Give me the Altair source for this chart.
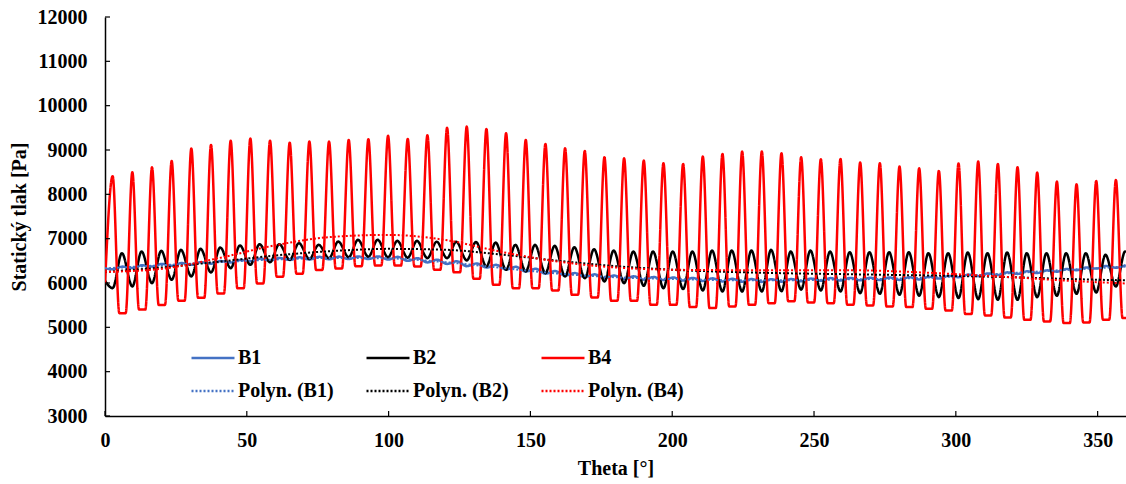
import altair as alt
import pandas as pd

# ---------------- data ----------------
FIRST_PEAK = 2.7      # theta of first B4 peak [deg]
PERIOD = 6.936        # blade-passing period [deg]

red_start = 5990
red_end = 5210
red_peak = [8410, 8500, 8610, 8750, 9035, 9115, 9210, 9260, 9210, 9165,
            9190, 9190, 9225, 9245, 9320, 9250, 9330, 9500, 9528, 9475,
            9378, 9228, 9137, 9040, 8980, 8837, 8814, 8762, 8702, 8687,
            8852, 8912, 8965, 8965, 8927, 8837, 8792, 8799, 8717, 8702,
            8627, 8589, 8529, 8695, 8739, 8687, 8612, 8491, 8288, 8228,
            8303, 8326]
red_trough = [5320, 5400, 5505, 5600, 5665, 5765, 5880, 5990, 6140, 6210,
              6295, 6325, 6380, 6395, 6395, 6373, 6297, 6240, 6095, 5959,
              5884, 5884, 5832, 5734, 5674, 5599, 5599, 5509, 5509, 5456,
              5434, 5471, 5509, 5546, 5590, 5561, 5546, 5509, 5494, 5471,
              5456, 5419, 5380, 5298, 5268, 5223, 5170, 5133, 5095, 5110,
              5170, 5208]

black_start = 6050
black_end = 6690
black_trough = [5884, 5922, 5997, 6072, 6148, 6238, 6335, 6410, 6470, 6523,
                6540, 6560, 6580, 6590, 6580, 6570, 6560, 6560, 6510, 6372,
                6297, 6260, 6222, 6147, 6109, 6034, 5997, 5937, 5884, 5862,
                5832, 5809, 5809, 5809, 5815, 5850, 5831, 5809, 5771, 5756,
                5734, 5711, 5681, 5659, 5636, 5621, 5621, 5681, 5711, 5756,
                5786, 5921]
black_peak = [6673, 6711, 6726, 6748, 6771, 6801, 6846, 6876, 6876, 6899,
              6861, 6936, 6974, 6974, 6951, 6951, 6930, 6930, 6925, 6913,
              6860, 6860, 6838, 6808, 6763, 6733, 6710, 6710, 6710, 6710,
              6733, 6733, 6733, 6748, 6710, 6733, 6710, 6695, 6695, 6695,
              6695, 6673, 6673, 6688, 6673, 6688, 6673, 6673, 6673, 6673,
              6635, 6710]

blue_start = 6330
blue_hi = [6370, 6400, 6430, 6450, 6470, 6495, 6520, 6550, 6565, 6580,
           6590, 6595, 6600, 6600, 6590, 6560, 6525, 6490, 6440, 6410,
           6365, 6320, 6270, 6225, 6195, 6170, 6150, 6135, 6125, 6115,
           6105, 6095, 6090, 6085, 6090, 6100, 6110, 6115, 6120, 6125,
           6130, 6140, 6160, 6190, 6215, 6240, 6265, 6285, 6315, 6350,
           6385, 6405]
blue_lo = [6310, 6340, 6370, 6390, 6410, 6435, 6460, 6490, 6505, 6520,
           6530, 6535, 6540, 6540, 6530, 6500, 6465, 6430, 6380, 6350,
           6305, 6260, 6210, 6165, 6135, 6110, 6090, 6075, 6065, 6055,
           6045, 6035, 6030, 6025, 6030, 6040, 6050, 6055, 6060, 6065,
           6070, 6080, 6100, 6130, 6155, 6180, 6205, 6225, 6255, 6290,
           6325, 6345]

poly_theta = [0, 20, 40, 60, 80, 100, 120, 140, 160, 180,
              200, 220, 240, 260, 280, 300, 320, 340, 360]
poly_b1 = [6330, 6400, 6470, 6530, 6565, 6555, 6470, 6340, 6210, 6130,
           6090, 6065, 6060, 6080, 6100, 6150, 6225, 6300, 6370]
poly_b2 = [6250, 6350, 6480, 6620, 6720, 6770, 6750, 6640, 6500, 6380,
           6300, 6250, 6220, 6200, 6180, 6160, 6130, 6090, 6060]
poly_b4 = [6250, 6320, 6560, 6850, 7040, 7085, 6970, 6700, 6480, 6350,
           6300, 6290, 6290, 6290, 6260, 6200, 6130, 6050, 5990]

x_ticks = [0, 50, 100, 150, 200, 250, 300, 350]
y_ticks = [3000, 4000, 5000, 6000, 7000, 8000, 9000, 10000, 11000, 12000]

SERIES = ["B1", "B2", "B4", "Polyn. (B1)", "Polyn. (B2)", "Polyn. (B4)"]
COLORS = ["#4472C4", "#000000", "#FF0000", "#4472C4", "#000000", "#FF0000"]
DASHES = [[1, 0], [1, 0], [1, 0], [2, 2], [2, 2], [2, 2]]

# ---------------- build tables ----------------
rows = []
def add(series, t, v):
    if 0 <= t <= 360:
        rows.append({"series": series, "theta": t, "p": v})

add("B4", 0, red_start)
add("B2", 0, black_start)
add("B1", 0, blue_start)
for k in range(len(red_peak)):
    t = FIRST_PEAK + PERIOD * k
    add("B4", t, red_peak[k])
    add("B4", t + 0.34 * PERIOD, red_trough[k])
    add("B4", t + 0.66 * PERIOD, red_trough[k])
    add("B2", t, black_trough[k])
    add("B2", t + 0.47 * PERIOD, black_peak[k])
    add("B1", t, blue_lo[k])
    add("B1", t + 0.5 * PERIOD, blue_hi[k])
add("B4", 360, red_end)
add("B2", 360, black_end)
for t, a, b, c in zip(poly_theta, poly_b1, poly_b2, poly_b4):
    add("Polyn. (B1)", t, a)
    add("Polyn. (B2)", t, b)
    add("Polyn. (B4)", t, c)

df = pd.DataFrame(rows)

W, H = 1021, 399
FONT = "Liberation Serif"

xscale = alt.Scale(domain=[0, 360], nice=False, zero=False)
yscale = alt.Scale(domain=[3000, 12000], nice=False, zero=False)

def legend():
    return alt.Legend(title=None, columns=3, direction="horizontal", orient="none",
                      legendX=96, legendY=329,
                      symbolType="M-2,0L2,0", symbolSize=462,
                      symbolStrokeWidth=2.5,
                      labelFont=FONT, labelFontSize=20,
                      labelFontWeight="bold", labelColor="#000000",
                      labelOffset=13, columnPadding=27,
                      rowPadding=11, padding=0)

color = alt.Color("series:N", scale=alt.Scale(domain=SERIES, range=COLORS), legend=legend())
dash = alt.StrokeDash("series:N", scale=alt.Scale(domain=SERIES, range=DASHES), legend=legend())

xaxis = alt.Axis(values=x_ticks, title="Theta [°]", format="d", grid=False,
                 tickSize=0, labelPadding=14, titlePadding=8, labelFlush=False,
                 domainColor="#000000", domainWidth=1.5)
yaxis = alt.Axis(values=y_ticks, title="Statický tlak [Pa]", format="d", grid=False,
                 tickSize=0, labelPadding=18, titlePadding=8, labelFlush=False,
                 domainColor="#000000", domainWidth=1.5)

def series_layer(name, width):
    return alt.Chart(df).transform_filter(alt.datum.series == name).mark_line(
        interpolate="monotone", strokeWidth=width, clip=True
    ).encode(
        x=alt.X("theta:Q", scale=xscale, axis=xaxis),
        y=alt.Y("p:Q", scale=yscale, axis=yaxis),
        color=color,
        strokeDash=dash,
        order=alt.Order("theta:Q"),
    )

layers = [series_layer("B1", 2.5), series_layer("B2", 2.5), series_layer("B4", 2.5),
          series_layer("Polyn. (B1)", 2), series_layer("Polyn. (B2)", 2),
          series_layer("Polyn. (B4)", 2)]

ytick_df = pd.DataFrame({"v": y_ticks})
xtick_df = pd.DataFrame({"v": x_ticks})
yticks = alt.Chart(ytick_df).mark_rule(color="#000000", strokeWidth=1.2).encode(
    y=alt.Y("v:Q", scale=yscale, axis=yaxis), x=alt.value(0), x2=alt.value(5))
xticks = alt.Chart(xtick_df).mark_rule(color="#000000", strokeWidth=1.2).encode(
    x=alt.X("v:Q", scale=xscale, axis=xaxis), y=alt.value(H), y2=alt.value(H - 5))

chart = alt.layer(*layers, yticks, xticks).properties(
    width=W, height=H,
    autosize=alt.AutoSizeParams(type="none"),
    padding={"left": 105, "top": 17, "right": 0, "bottom": 68},
    background="#ffffff",
).configure_view(strokeWidth=0).configure_axis(
    labelFont=FONT, labelFontSize=20, labelFontWeight="bold", labelColor="#000000",
    titleFont=FONT, titleFontSize=20, titleFontWeight="bold", titleColor="#000000",
)

chart.save("out.html", embed_options={"renderer": "svg", "actions": False})
